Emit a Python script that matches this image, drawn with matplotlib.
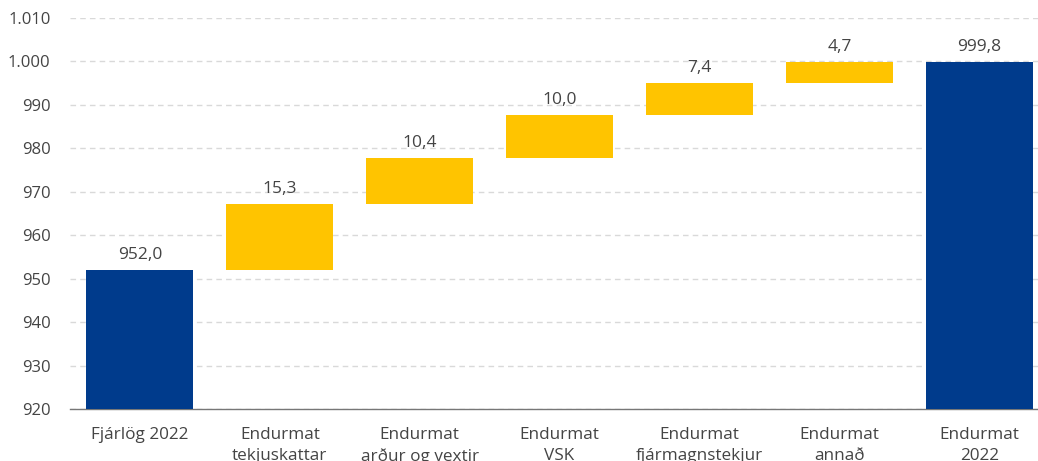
import matplotlib
matplotlib.use("Agg")
import matplotlib.pyplot as plt

categories = ["Fjárlög 2022", "Endurmat\ntekjuskattar", "Endurmat\narður og vextir",
              "Endurmat\nVSK", "Endurmat\nfjármagnstekjur", "Endurmat\nannað", "Endurmat\n2022"]
values = [952.0, 15.3, 10.4, 10.0, 7.4, 4.7, 999.8]
kinds = ["total", "delta", "delta", "delta", "delta", "delta", "total"]
value_labels = ["952,0", "15,3", "10,4", "10,0", "7,4", "4,7", "999,8"]
y_ticks = [920, 930, 940, 950, 960, 970, 980, 990, 1000, 1010]
y_tick_labels = ["920", "930", "940", "950", "960", "970", "980", "990", "1.000", "1.010"]

NAVY = "#003B8C"
YELLOW = "#FFC400"
TEXT = "#444444"
BASE = 920

plt.rcParams["font.family"] = ["Open Sans", "DejaVu Sans"]

fig = plt.figure(figsize=(10.38, 4.61), dpi=100)
ax = fig.add_axes([70 / 1038, 52 / 461, 1 - 70 / 1038, (409 - 18) / 461])

running = 0.0
for i, (v, k) in enumerate(zip(values, kinds)):
    if k == "total":
        bottom, top = BASE, v
        color = NAVY
        running = v
    else:
        bottom, top = running, running + v
        color = YELLOW
        running = top
    ax.bar(i, top - bottom, bottom=bottom, width=0.765, color=color, zorder=3)
    ax.annotate(value_labels[i], (i, top), xytext=(0, 5), textcoords="offset points",
                ha="center", va="bottom", fontsize=12.5, color=TEXT)

ax.set_xlim(-0.5, 6.42)
ax.set_ylim(920, 1010)
ax.set_yticks(y_ticks)
ax.set_yticklabels(y_tick_labels)
ax.set_xticks(range(len(categories)))
ax.set_xticklabels(categories, linespacing=1.4)

ax.grid(axis="y", color="#d9d9d9", linestyle=(0, (4, 3)), linewidth=1, zorder=0)
ax.grid(axis="x", visible=False)
for s in ["top", "right", "left"]:
    ax.spines[s].set_visible(False)
ax.spines["bottom"].set_color("#777777")
ax.spines["bottom"].set_linewidth(1)
ax.tick_params(axis="y", length=0, labelsize=12, colors=TEXT, pad=14)
ax.tick_params(axis="x", length=0, labelsize=12.3, colors=TEXT, pad=13)

fig.savefig("out.png", dpi=100)
